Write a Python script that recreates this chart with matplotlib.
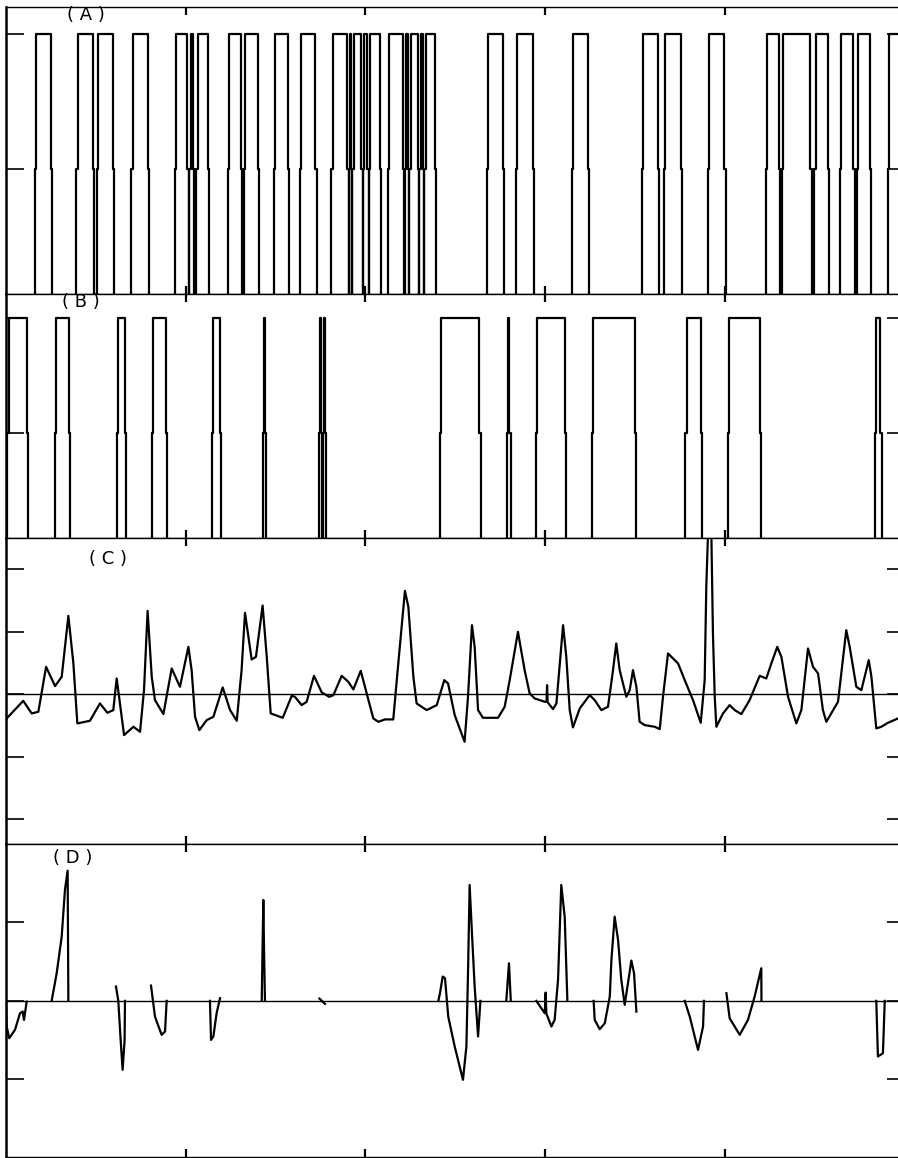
import numpy as np
import matplotlib.pyplot as plt

# (A) pulse train: rise / fall times
a_rise = [0.161, 0.390, 0.506, 0.696, 0.940, 1.020, 1.058, 1.235, 1.322, 1.491, 1.636,
          1.809, 1.908, 1.926, 1.986, 2.020, 2.126, 2.218, 2.245, 2.301, 2.328,
          2.677, 2.838, 3.150, 3.539, 3.662, 3.906, 4.229, 4.318, 4.497, 4.641, 4.733, 4.908]
a_fall = [0.250, 0.484, 0.595, 0.790, 1.008, 1.038, 1.124, 1.308, 1.402, 1.569, 1.720,
          1.898, 1.918, 1.976, 2.010, 2.081, 2.209, 2.235, 2.292, 2.318, 2.387,
          2.766, 2.933, 3.239, 3.628, 3.756, 3.996, 4.300, 4.475, 4.574, 4.715, 4.808, 5.200]

# (B) pulse train
b_rise = [0.006, 0.273, 0.618, 0.812, 1.146, 1.428, 1.740, 1.762, 2.415, 2.786, 2.949,
          3.261, 3.779, 4.018, 4.836]
b_fall = [0.117, 0.350, 0.662, 0.890, 1.190, 1.440, 1.752, 1.775, 2.633, 2.800, 3.110,
          3.500, 3.867, 4.195, 4.866]

# (C) continuous signal
c_t = [0.000, 0.004, 0.096, 0.143, 0.180, 0.223, 0.273, 0.310, 0.347, 0.375, 0.397, 0.467,
       0.523, 0.564, 0.597, 0.616, 0.634, 0.657, 0.709, 0.746, 0.768, 0.788, 0.811, 0.829,
       0.876, 0.922, 0.968, 1.015, 1.033, 1.052, 1.076, 1.117, 1.154, 1.206, 1.247, 1.284,
       1.311, 1.330, 1.367, 1.391, 1.428, 1.451, 1.473, 1.540, 1.590, 1.608, 1.645, 1.673,
       1.714, 1.757, 1.799, 1.822, 1.868, 1.905, 1.933, 1.974, 2.007, 2.044, 2.072, 2.109,
       2.155, 2.183, 2.220, 2.239, 2.267, 2.285, 2.341, 2.397, 2.439, 2.460, 2.497, 2.552,
       2.571, 2.593, 2.608, 2.627, 2.654, 2.738, 2.775, 2.803, 2.849, 2.886, 2.914, 2.942,
       2.998, 3.008, 3.011, 3.014, 3.044, 3.063, 3.100, 3.118, 3.137, 3.155, 3.193, 3.248,
       3.276, 3.313, 3.350, 3.378, 3.396, 3.415, 3.452, 3.471, 3.489, 3.508, 3.526, 3.554,
       3.610, 3.638, 3.656, 3.684, 3.740, 3.777, 3.823, 3.866, 3.888, 3.897, 3.907, 3.925,
       3.934, 3.944, 3.953, 3.990, 4.027, 4.055, 4.092, 4.138, 4.194, 4.231, 4.259, 4.292,
       4.315, 4.352, 4.398, 4.426, 4.463, 4.491, 4.519, 4.546, 4.565, 4.630, 4.676, 4.695,
       4.732, 4.760, 4.801, 4.816, 4.843, 4.871, 4.908, 4.964, 5.000]
c_y = [-0.42, -0.389, -0.107, -0.309, -0.283, 0.437, 0.128, 0.277, 1.253, 0.491, -0.469, -0.427,
       -0.149, -0.299, -0.256, 0.251, -0.149, -0.656, -0.523, -0.603, 0.064, 1.333, 0.277, -0.096,
       -0.320, 0.411, 0.117, 0.757, 0.384, -0.363, -0.576, -0.416, -0.363, 0.107, -0.256, -0.427,
       0.384, 1.301, 0.555, 0.597, 1.419, 0.597, -0.309, -0.379, -0.027, -0.043, -0.176, -0.123,
       0.293, 0.027, -0.043, -0.016, 0.293, 0.197, 0.075, 0.373, 0.011, -0.389, -0.443, -0.405,
       -0.405, 0.491, 1.653, 1.397, 0.277, -0.149, -0.256, -0.176, 0.224, 0.171, -0.336, -0.763,
       -0.043, 1.104, 0.757, -0.256, -0.379, -0.379, -0.203, 0.224, 0.997, 0.384, 0.011, -0.069,
       -0.123, -0.120, 0.144, -0.130, -0.240, -0.149, 1.104, 0.597, -0.256, -0.533, -0.229, -0.016,
       -0.096, -0.256, -0.203, 0.384, 0.811, 0.384, -0.043, 0.064, 0.384, 0.117, -0.443, -0.496,
       -0.523, -0.560, -0.043, 0.651, 0.491, 0.224, -0.096, -0.459, 0.224, 1.717, 2.600, 2.600,
       0.971, -0.043, -0.523, -0.309, -0.176, -0.256, -0.320, -0.096, 0.293, 0.251, 0.491, 0.757,
       0.597, -0.043, -0.469, -0.256, 0.731, 0.437, 0.331, -0.256, -0.443, -0.123, 1.024, 0.757,
       0.117, 0.064, 0.544, 0.277, -0.549, -0.523, -0.459, -0.389, -0.360]

# (D) signal with gaps (nan = no value)
nan = np.nan
d_t = [0.000, 0.004, 0.018, 0.050, 0.078, 0.093, 0.100, 0.115, nan,
       0.254, 0.282, 0.310, 0.328, 0.343, 0.347, nan,
       0.612, 0.625, 0.638, 0.649, 0.660, 0.662, nan,
       0.807, 0.829, 0.866, 0.885, 0.894, nan,
       1.135, 1.141, 1.154, 1.172, 1.191, nan,
       1.423, 1.432, 1.436, 1.441, nan,
       1.744, 1.775, nan,
       2.406, 2.415, 2.430, 2.443, 2.461, 2.497, 2.543, 2.562, 2.571, 2.580, 2.593, 2.608, 2.627, 2.640, nan,
       2.784, 2.799, 2.809, nan,
       2.951, 2.998, 3.003, 3.007, 3.035, 3.053, 3.072, 3.090, 3.109, 3.124, nan,
       3.270, 3.276, 3.304, 3.332, 3.360, 3.369, 3.387, 3.406, 3.424, 3.443, 3.461, 3.480, 3.495, 3.508, nan,
       3.777, 3.805, 3.851, 3.879, 3.884, nan,
       4.009, 4.027, 4.083, 4.129, 4.166, 4.203, 4.204, nan,
       4.843, 4.852, 4.880, 4.890]
d_y = [0.000, -0.327, -0.476, -0.369, -0.157, -0.136, -0.242, -0.010, nan,
       0.000, 0.352, 0.820, 1.414, 1.660, 0.000, nan,
       0.183, 0.000, -0.497, -0.879, -0.497, 0.000, nan,
       0.195, -0.200, -0.433, -0.391, 0.000, nan,
       0.000, -0.497, -0.454, -0.157, 0.034, nan,
       0.000, 1.287, 0.650, 0.000, nan,
       0.030, -0.038, nan,
       0.000, 0.098, 0.310, 0.289, -0.200, -0.582, -1.006, -0.582, 0.352, 1.478, 0.862, 0.183, -0.454, 0.000, nan,
       0.000, 0.480, 0.000, nan,
       0.000, -0.157, 0.106, -0.160, -0.327, -0.242, 0.268, 1.478, 1.074, 0.000, nan,
       0.000, -0.242, -0.361, -0.285, 0.055, 0.522, 1.074, 0.777, 0.268, -0.051, 0.225, 0.514, 0.352, -0.136, nan,
       0.000, -0.200, -0.624, -0.327, 0.000, nan,
       0.098, -0.221, -0.433, -0.242, 0.055, 0.416, 0.000, nan,
       0.000, -0.709, -0.667, 0.000]

labels = ['(A)', '(B)', '(C)', '(D)']


def pulse_xy(rise, fall, d=0.008):
    x, y = [-0.1], [0.0]
    for r, f in zip(rise, fall):
        x += [r, r, r + d, r + d, f, f, f + d, f + d]
        y += [0.0, 0.5, 0.5, 1.0, 1.0, 0.5, 0.5, 0.0]
    x.append(5.3)
    y.append(0.0)
    return x, y


W, H = 898, 1158
fig = plt.figure(figsize=(W / 100, H / 100), dpi=100)


def add_ax(top, bottom, left=6, right=904.5):
    return fig.add_axes([left / W, 1 - bottom / H, (right - left) / W, (bottom - top) / H])


axA = add_ax(7, 294)
axB = add_ax(294, 538)
axC = add_ax(538, 844)
axD = add_ax(844, 1157)

lw = 1.6
x, y = pulse_xy(a_rise, a_fall)
axA.plot(x, y, color='black', lw=lw)
axA.set_ylim(0.037, 1.1)
axA.set_yticks([0.5, 1.0])

x, y = pulse_xy(b_rise, b_fall)
axB.plot(x, y, color='black', lw=lw)
axB.set_ylim(0.043, 1.104)
axB.set_yticks([0.5, 1.0])

axC.axhline(0, color='black', lw=1.0)
axC.plot(c_t, c_y, color='black', lw=lw)
axC.set_ylim(-2.4, 2.5)
axC.set_yticks([-2, -1, 0, 1, 2])

axD.axhline(0, color='black', lw=1.0)
axD.plot(d_t, d_y, color='black', lw=lw)
axD.set_ylim(-1.99, 2.0)
axD.set_yticks([-1, 0, 1])

for ax in (axA, axB, axC, axD):
    ax.set_xlim(0, 5)
    ax.set_xticks([1, 2, 3, 4])
    ax.tick_params(direction='in', top=True, right=True, bottom=True, left=True,
                   labelbottom=False, labelleft=False, color='black', width=1.2)
    ax.tick_params(axis='x', length=6, width=1.6)
    ax.tick_params(axis='y', length=13)
    for s in ax.spines.values():
        s.set_linewidth(1.0)
        s.set_color('black')
    ax.spines['left'].set_linewidth(1.8)

label_pos = [(86, 15), (81, 302), (108, 559), (73, 858)]
for lab, (px, py) in zip(labels, label_pos):
    fig.text(px / W, 1 - py / H, lab.replace('(', '( ').replace(')', ' )'),
             ha='center', va='center', fontsize=13, family='DejaVu Sans')

fig.savefig('out.png', dpi=100)
